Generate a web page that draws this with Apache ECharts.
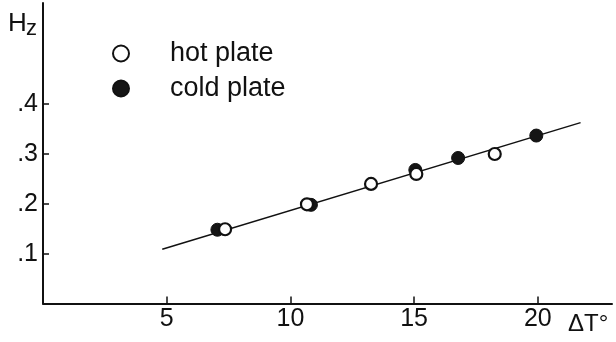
<!DOCTYPE html>
<html><head><meta charset="utf-8">
<script src="https://cdn.jsdelivr.net/npm/echarts@6/dist/echarts.min.js"></script>
<style>html,body{margin:0;padding:0;background:#fff}#c{width:616px;height:342px}</style>
</head><body><div id="c"></div>
<script>
const hotX = [7.36, 10.67, 13.26, 15.09, 18.26];
const hotY = [0.149, 0.199, 0.240, 0.260, 0.300];
const coldX = [7.05, 10.83, 15.05, 16.78, 19.94];
const coldY = [0.148, 0.198, 0.268, 0.292, 0.337];
const lineX = [4.82, 21.73];
const lineY = [0.109, 0.363];
const xTicks = [5, 10, 15, 20];
const yTicks = [0.1, 0.2, 0.3, 0.4];
const yTickLabels = ['.1', '.2', '.3', '.4'];
const seriesNames = ['hot plate', 'cold plate'];

const FONT = 'Liberation Sans';
const zip = (a, b) => a.map((v, i) => [v, b[i]]);
const chart = echarts.init(document.getElementById('c'), null, {renderer: 'canvas'});
chart.setOption({
  animation: false,
  backgroundColor: '#fff',
  grid: {left: 43, right: 4, top: 3, bottom: 38.5, containLabel: false},
  legend: {
    orient: 'vertical', left: 107, top: 35, itemWidth: 16, itemHeight: 16, itemGap: 8,
    data: seriesNames,
    textStyle: {fontFamily: FONT, fontSize: 27, color: '#111', lineHeight: 26, padding: [0, 0, 0, 36]}
  },
  xAxis: {
    type: 'value', min: 0, max: 23,
    axisLine: {show: true, lineStyle: {color: '#111', width: 2}},
    axisTick: {show: true, inside: true, length: 7, customValues: xTicks, lineStyle: {color: '#111', width: 1.5}},
    axisLabel: {customValues: xTicks, fontFamily: FONT, fontSize: 25, color: '#111', margin: 3},
    splitLine: {show: false}
  },
  yAxis: {
    type: 'value', min: 0, max: 0.603,
    axisLine: {show: true, lineStyle: {color: '#111', width: 2}},
    axisTick: {show: true, inside: true, length: 6, customValues: yTicks, lineStyle: {color: '#111', width: 1.5}},
    axisLabel: {customValues: yTicks, fontFamily: FONT, fontSize: 25, color: '#111', margin: 5,
      formatter: v => yTickLabels[yTicks.findIndex(t => Math.abs(t - v) < 1e-6)] || ''},
    splitLine: {show: false}
  },
  graphic: [
    {type: 'text', left: 8, top: 11, style: {text: 'H', font: '26px ' + FONT, fill: '#111'}},
    {type: 'text', left: 26, top: 18, style: {text: 'z', font: '22px ' + FONT, fill: '#111'}},
    {type: 'text', left: 568, top: 312, style: {text: 'ΔT°', font: '24px ' + FONT, fill: '#111'}}
  ],
  series: [
    {type: 'line', data: zip(lineX, lineY), symbol: 'none', lineStyle: {color: '#111', width: 1.5}, z: 1, silent: true},
    {name: seriesNames[1], type: 'scatter', data: zip(coldX, coldY), symbol: 'circle', symbolSize: 13,
      itemStyle: {color: '#151515', borderColor: '#111', borderWidth: 1, opacity: 1}, z: 2},
    {name: seriesNames[0], type: 'scatter', data: zip(hotX, hotY), symbol: 'circle', symbolSize: 12,
      itemStyle: {color: '#fff', borderColor: '#111', borderWidth: 2.2, opacity: 1}, z: 3}
  ]
});
</script></body></html>
